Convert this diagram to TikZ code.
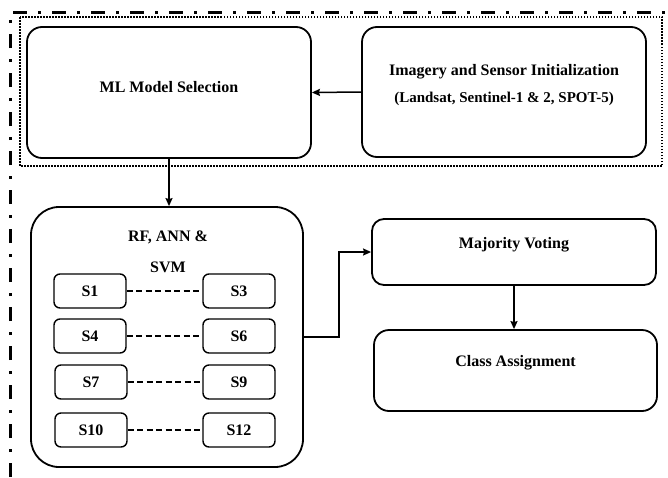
\documentclass[tikz,border=0pt]{standalone}
\usepackage{fontspec}
\setmainfont{Liberation Serif}
\usepackage{tikz}
\usetikzlibrary{shapes.geometric, arrows.meta, positioning}
\tikzstyle{bigbox} = [rectangle, rounded corners=15pt, line width=1.8pt, draw=black, text centered]
\tikzstyle{sbox} = [rectangle, rounded corners=6pt, line width=1.4pt, minimum width=72pt, minimum height=34pt, text centered, draw=black]
\tikzstyle{caption} = [text centered, align=center, font=\bfseries\fontsize{16}{19}\selectfont]
\tikzstyle{arrow} = [line width=1.5pt,->,>={Stealth[length=8pt,width=7pt,inset=1pt]}]
\tikzstyle{link} = [line width=1.2pt, dash pattern=on 6pt off 3.5pt]

\begin{document}
\begin{tikzpicture}[x=1pt, y=-1pt, font=\bfseries\fontsize{16}{19}\selectfont]
\useasboundingbox (0,0) rectangle (668,477);
% frames
\draw [line width=3pt, dash pattern=on 14pt off 11pt on 3pt off 11pt] (10,477) -- (10,12) -- (668,12);
\draw [line width=1.5pt, dash pattern=on 1.5pt off 1.5pt] (20,17) rectangle (662,166);

\node (mlsel) [bigbox, minimum width=284pt, minimum height=131pt] at (169,92.5) {};
\node (mltext) [caption, yshift=5pt] at (mlsel.center) {ML Model Selection};
\node (img) [bigbox, minimum width=284pt, minimum height=130pt] at (504,92) {};
\node (imgtext) [caption, yshift=7pt] at (img.center) {Imagery and Sensor Initialization\\[8pt]{\fontsize{15}{18}\selectfont (Landsat, Sentinel-1 \& 2, SPOT-5)}};

\node (rf) [bigbox, rounded corners=28pt, minimum width=272pt, minimum height=260pt] at (167,337) {};
\node (rftext) [caption] at (168,237) {RF, ANN \&};
\node (svmtext) [caption] at (168,267) {SVM};

\node (s1) [sbox] at (90,291) {S1};
\node (s3) [sbox] at (239,291) {S3};
\node (s4) [sbox] at (90,336) {S4};
\node (s6) [sbox] at (239,336) {S6};
\node (s7) [sbox] at (91,382) {S7};
\node (s9) [sbox] at (239,382) {S9};
\node (s10) [sbox] at (91,430) {S10};
\node (s12) [sbox] at (239,430) {S12};

\node (mv) [bigbox, rounded corners=12pt, minimum width=284pt, minimum height=66pt] at (514,252) {};
\node (mvtext) [caption, yshift=7pt] at (mv.center) {Majority Voting};
\node (ca) [bigbox, minimum width=283pt, minimum height=81pt] at (515.5,370.5) {};
\node (catext) [caption, yshift=8pt] at (ca.center) {Class Assignment};

\draw [arrow] (img.west) -- (mlsel.east);
\draw [arrow] (mlsel.south) -- (mlsel.south |- rf.north);
\draw [link] (s1) -- (s3);
\draw [link] (s4) -- (s6);
\draw [link] (s7) -- (s9);
\draw [link] (s10) -- (s12);
\draw [arrow] (rf.east) -- ++(35,0) |- (mv.west);
\draw [arrow] (mv.south) -- (mv.south |- ca.north);
\end{tikzpicture}
\end{document}
